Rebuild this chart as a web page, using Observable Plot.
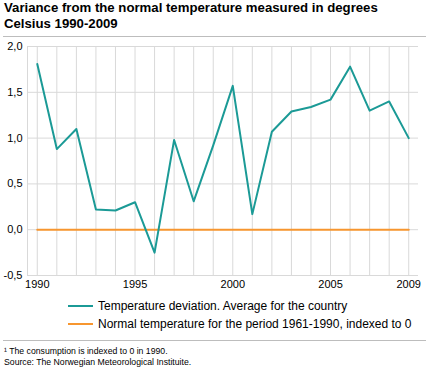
<!DOCTYPE html>
<html>
<head>
<meta charset="utf-8">
<script src="https://cdn.jsdelivr.net/npm/d3@7"></script>
<script src="https://cdn.jsdelivr.net/npm/@observablehq/plot@0.6"></script>
<style>
  html, body { margin: 0; padding: 0; background: #fff; }
  body { width: 429px; height: 370px; position: relative; overflow: hidden;
         font-family: "Liberation Sans", Arial, sans-serif; color: #000; }
  #chart { position: absolute; left: 0; top: 0; }
  .title { position: absolute; left: 4px; top: 0px; font-weight: bold; font-size: 13.2px; line-height: 16px; white-space: nowrap; }
  .sep { position: absolute; left: 3px; width: 423px; height: 1px; background: #bdbdbd; }
  .leg { position: absolute; left: 68px; font-size: 12px; line-height: 14px; white-space: nowrap; }
  .leg .sw { display: inline-block; width: 25px; height: 2px; vertical-align: middle; margin-right: 5px; position: relative; top: -1px; }
  .foot { position: absolute; left: 4px; top: 346px; font-size: 8.7px; line-height: 11px; white-space: nowrap; }
</style>
</head>
<body>
<div id="chart"></div>
<div class="title">Variance from the normal temperature measured in degrees<br>Celsius 1990-2009</div>
<div class="sep" style="top:36px"></div>
<div class="leg" style="top:299px"><span class="sw" style="background:#1b9a96"></span>Temperature deviation. Average for the country</div>
<div class="leg" style="top:317px"><span class="sw" style="background:#f7962f"></span>Normal temperature for the period 1961-1990, indexed to 0</div>
<div class="sep" style="top:340px"></div>
<div class="foot">¹ The consumption is indexed to 0 in 1990.<br>Source: The Norwegian Meteorological Instituite.</div>
<script>
const years = [1990, 1991, 1992, 1993, 1994, 1995, 1996, 1997, 1998, 1999,
               2000, 2001, 2002, 2003, 2004, 2005, 2006, 2007, 2008, 2009];
const deviation = [1.81, 0.88, 1.10, 0.22, 0.21, 0.30, -0.25, 0.98, 0.31, 0.92,
                   1.57, 0.17, 1.07, 1.29, 1.34, 1.42, 1.78, 1.30, 1.40, 1.00];
const normal = [0, 0, 0, 0, 0, 0, 0, 0, 0, 0, 0, 0, 0, 0, 0, 0, 0, 0, 0, 0];
const xTickLabels = [1990, 1995, 2000, 2005, 2009];
const yTicks = [-0.5, 0, 0.5, 1, 1.5, 2];
const xDomain = [1989.5, 2009.5];
const yDomain = [-0.5, 2];

const data = years.map((year, i) => ({year, deviation: deviation[i], normal: normal[i]}));
const grid = "#d9d9d9";

const chart = Plot.plot({
  width: 429,
  height: 300,
  marginTop: 46,
  marginBottom: 25,
  marginLeft: 27,
  marginRight: 11,
  style: {fontFamily: "'Liberation Sans', Arial, sans-serif", fontSize: "11px", color: "#000", background: "transparent"},
  x: {domain: xDomain, ticks: xTickLabels, tickFormat: d => String(d), tickSize: 0, tickPadding: 5, label: null},
  y: {domain: yDomain, ticks: yTicks, tickFormat: d => d.toFixed(1).replace(".", ","), tickSize: 0, tickPadding: 5, label: null},
  marks: [
    Plot.ruleY(yTicks, {stroke: grid, strokeWidth: 1}),
    Plot.ruleX(years, {stroke: grid, strokeWidth: 1}),
    Plot.ruleX([xDomain[0]], {stroke: grid, strokeWidth: 1}),
    Plot.line(data, {x: "year", y: "normal", stroke: "#f7962f", strokeWidth: 2}),
    Plot.line(data, {x: "year", y: "deviation", stroke: "#1b9a96", strokeWidth: 2})
  ]
});
document.getElementById("chart").appendChild(chart);
</script>
</body>
</html>
